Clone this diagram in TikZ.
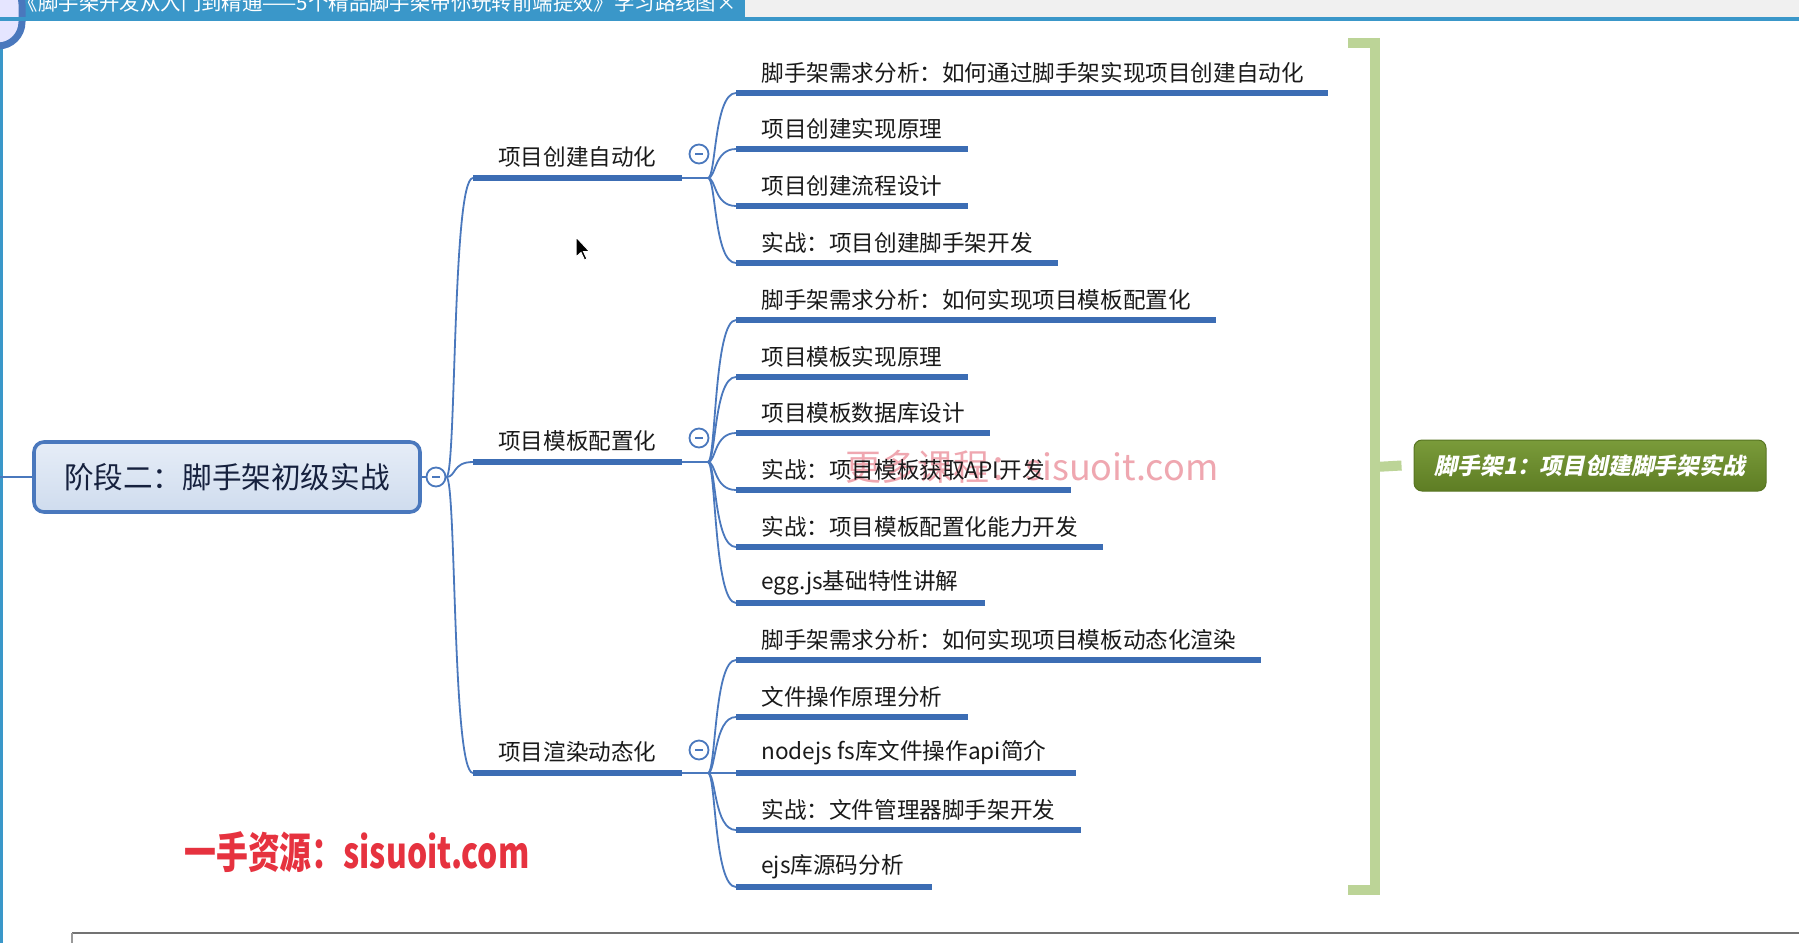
\documentclass[tikz,border=0pt]{standalone}
\usepackage{fontspec}
\setmainfont{Noto Sans CJK SC}
\newfontfamily\greenfont[FakeSlant=0.2]{Noto Sans CJK SC}
\usetikzlibrary{calc}
\definecolor{lineblue}{HTML}{3C6DB4}
\definecolor{thinblue}{HTML}{4A78BD}
\definecolor{textc}{HTML}{1A1A1A}
\definecolor{tabblue}{HTML}{3A97C9}
\definecolor{bracketgreen}{HTML}{BCD497}
\definecolor{wmred}{HTML}{E6323F}
\definecolor{wmpink}{HTML}{EFA7B0}
\definecolor{maintop}{HTML}{E6EDF7}
\definecolor{mainbot}{HTML}{CFDCEE}
\definecolor{maintext}{HTML}{16213E}
\definecolor{greentop}{HTML}{7A9B3A}
\definecolor{greenbot}{HTML}{5E7D24}
\definecolor{greenline}{HTML}{587522}
\newcommand\leafbox[2]{\makebox[#1][l]{\hspace*{12.5pt}#2}}
\tikzset{
  uline/.style={draw=lineblue, line width=2.6pt},
  conn/.style={draw=thinblue, line width=0.9pt},
  leaf/.style={anchor=south west, inner sep=0pt, minimum height=20pt, text=textc, font=\fontsize{11.3}{13}\selectfont},
  branch/.style={anchor=south west, inner sep=0pt, minimum width=104pt, minimum height=21pt, text=textc, font=\fontsize{11.3}{13}\selectfont},
  mainbox/.style={rectangle, rounded corners=5pt, draw=thinblue, line width=1.8pt, top color=maintop, bottom color=mainbot, minimum width=193pt, minimum height=35pt, text=maintext, font=\fontsize{14.8}{17}\selectfont},
  greenbox/.style={rectangle, rounded corners=4pt, draw=greenline, line width=0.5pt, top color=greentop, bottom color=greenbot, minimum width=176pt, minimum height=25.5pt, text=white, font=\greenfont\bfseries\fontsize{11.4}{13}\selectfont},
  togglec/.style={circle, draw=thinblue, fill=white, line width=0.9pt, minimum size=9.5pt, inner sep=0pt,
    path picture={\draw[thinblue, line width=0.8pt] ($(path picture bounding box.center)+(-4,0)$) -- ($(path picture bounding box.center)+(4,0)$);}},
}
\begin{document}
\begin{tikzpicture}[x=0.5pt,y=-0.5pt]
\useasboundingbox (0,0) rectangle (1799,943);
\clip (0,0) rectangle (1799,943);
\fill[white] (0,0) rectangle (1799,943);
% window chrome
\fill[black!6] (745,0) rectangle (1799,18);
\fill[tabblue] (0,0) rectangle (745,18);
\fill[tabblue] (0,0) rectangle (3,943);
\node[anchor=base west, inner sep=0pt, text=white, font=\fontsize{10.2}{12}\selectfont] (title) at (8,10) {*《脚手架开发从入门到精通——5个精品脚手架带你玩转前端提效》学习路线图};
\node[anchor=base, inner sep=0pt, text=white, font=\fontsize{10.2}{12}\selectfont] (closex) at (727,10) {×};
\draw[draw=thinblue, line width=3.5pt, fill=blue!10!white, rounded corners=12pt] (-40,-20) rectangle (22,46);
\fill[tabblue] (0,17) rectangle (1799,21);
\draw[black!55, line width=1pt] (72,933) -- (1799,933);
\draw[black!40, line width=0.6pt] (72,933) -- (72,943);

% watermarks
\node[text=wmpink, font=\fontsize{18}{20}\selectfont, inner sep=0pt] (wm2) at (1032,467) {更多课程：sisuoit.com};
\node[text=wmred, font=\bfseries\fontsize{21.5}{24}\selectfont, inner sep=0pt] (wm1) at (357,852) {\scalebox{0.74}[1]{一手资源：sisuoit.com}};

% main node
\coordinate (lefts) at (0,477);
\node[mainbox] (main) at (227,477) {阶段二：脚手架初级实战};
\node[togglec] (c0) at (436,477) {};
\draw[conn] (lefts) -- (main.west);
\draw[conn] (main.east) -- (c0.west);

% branches
\node[branch] (b1) at (473,178) {项目创建自动化};
\node[branch] (b2) at (473,462) {项目模板配置化};
\node[branch] (b3) at (473,773) {项目渲染动态化};
\foreach \b in {b1,b2,b3}{
  \draw[conn] (c0.east) .. controls ($(c0.east)+(10,0)$) and ($(\b.south west)+(-21,0)$) .. (\b.south west);
  \draw[uline] (\b.south west) -- (\b.south east);
}
\node[togglec] (c1) at (699,154) {};
\node[togglec] (c2) at (699,438) {};
\node[togglec] (c3) at (699,750) {};
\coordinate (j1) at (708,178);
\coordinate (j2) at (708,462);
\coordinate (j3) at (708,773);
\draw[conn] (b1.south east) -- (j1);
\draw[conn] (b2.south east) -- (j2);
\draw[conn] (b3.south east) -- (j3);

% leaves group 1
\node[leaf] (l11) at (736,93) {\leafbox{295.5pt}{脚手架需求分析：如何通过脚手架实现项目创建自动化}};
\node[leaf] (l12) at (736,149) {\leafbox{115.5pt}{项目创建实现原理}};
\node[leaf] (l13) at (736,206) {\leafbox{115.5pt}{项目创建流程设计}};
\node[leaf] (l14) at (736,263) {\leafbox{160.5pt}{实战：项目创建脚手架开发}};
% group 2
\node[leaf] (l21) at (736,320) {\leafbox{239.5pt}{脚手架需求分析：如何实现项目模板配置化}};
\node[leaf] (l22) at (736,377) {\leafbox{115.5pt}{项目模板实现原理}};
\node[leaf] (l23) at (736,433) {\leafbox{126.5pt}{项目模板数据库设计}};
\node[leaf] (l24) at (736,490) {\leafbox{167pt}{实战：项目模板获取API开发}};
\node[leaf] (l25) at (736,547) {\leafbox{183pt}{实战：项目模板配置化能力开发}};
\node[leaf] (l26) at (736,603) {\leafbox{124pt}{egg.js基础特性讲解}};
% group 3
\node[leaf] (l31) at (736,660) {\leafbox{262pt}{脚手架需求分析：如何实现项目模板动态化渲染}};
\node[leaf] (l32) at (736,717) {\leafbox{115.5pt}{文件操作原理分析}};
\node[leaf] (l33) at (736,773) {\leafbox{169.5pt}{nodejs fs库文件操作api简介}};
\node[leaf] (l34) at (736,830) {\leafbox{172pt}{实战：文件管理器脚手架开发}};
\node[leaf] (l35) at (736,887) {\leafbox{97.5pt}{ejs库源码分析}};

\foreach \j/\ls in {j1/{l11,l12,l13,l14}, j2/{l21,l22,l23,l24,l25,l26}, j3/{l31,l32,l33,l34,l35}}{
  \foreach \l in \ls {
    \draw[conn] (\j) .. controls ($(\j)+(8,0)$) and ($(\l.south west)+(-22,0)$) .. (\l.south west);
    \draw[uline] (\l.south west) -- (\l.south east);
  }
}

% green bracket and summary node
\node[greenbox] (g) at (1590,465.5) {脚手架1：项目创建脚手架实战};
\coordinate (bt) at (1348,43);
\coordinate (bb) at (1348,890);
\coordinate (bm) at (1375,467);
\draw[bracketgreen, line width=5pt, line join=miter] (bt) -- (1375,43) -- (1375,890) -- (bb);
\draw[bracketgreen, line width=5pt] (bm) -- ($(g.west)+(-12,0)$);

% mouse cursor
\filldraw[fill=black, draw=white, line width=0.5pt, shift={(576,237)}]
  (0,0) -- (0,20) -- (5,15.5) -- (8.5,23) -- (11,22) -- (7.5,14.5) -- (13.5,14.5) -- cycle;
\end{tikzpicture}
\end{document}
